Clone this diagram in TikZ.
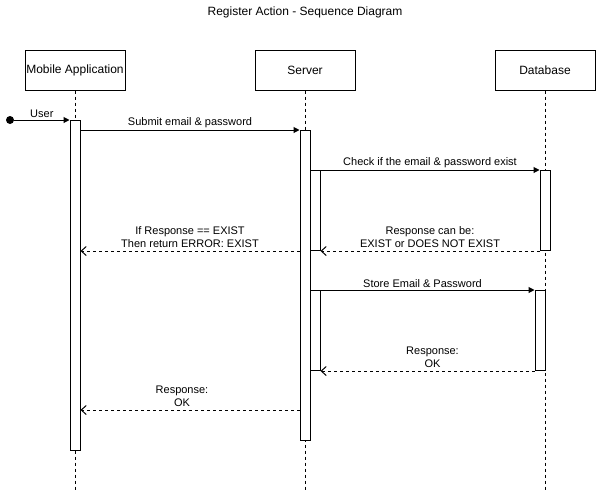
\documentclass[tikz,border=0pt]{standalone}
\usepackage{fontspec}
\setmainfont{Liberation Sans}
\usetikzlibrary{arrows.meta, positioning, calc}

\begin{document}
\begin{tikzpicture}[x=1pt,y=-1pt,
	every node/.append style={font=\fontsize{11}{13}\selectfont},
	actor/.style={draw,line width=1pt,minimum width=100pt,minimum height=40pt,inner sep=0pt,font=\fontsize{12}{14}\selectfont},
	life/.style={line width=1pt,dash pattern=on 3pt off 3pt},
	act/.style={draw,fill=white,line width=1pt,minimum width=10pt,inner sep=0pt,anchor=north},
	msg/.style={line width=1pt,-{Triangle[length=6pt,width=6pt]}},
	ret/.style={line width=1pt,dash pattern=on 3pt off 3pt,-{Straight Barb[length=5pt,width=9pt]}},
	lbl/.style={above,inner sep=1.5pt,align=center},
	lbltwo/.style={lbl,inner sep=3pt}]

\useasboundingbox (0,0) rectangle (596,491);

% set lifeline positions
\pgfmathsetmacro{\xmob}{75}
\pgfmathsetmacro{\xsrv}{305}
\pgfmathsetmacro{\xdb}{545}

% title
\node[font=\fontsize{12}{14}\selectfont] (title) at (305,12) {Register Action - Sequence Diagram};

% actor boxes and lifelines
\node[actor] (mobile) at (\xmob,70) {Mobile Application};
\node[actor] (server) at (\xsrv,70) {Server};
\node[actor] (db) at (\xdb,70) {Database};
\coordinate (bottom) at (0,491);
\draw[life] (mobile.south) -- (mobile.south |- bottom);
\draw[life] (server.south) -- (server.south |- bottom);
\draw[life] (db.south) -- (db.south |- bottom);

% activation bars
\node[act,minimum height=330pt] (mact) at (\xmob,120) {};
\node[act,minimum height=310pt] (sact) at (\xsrv,130) {};
\node[act,minimum height=80pt] (scheck) at (\xsrv+10,170) {};
\node[act,minimum height=80pt] (dcheck) at (\xdb,170) {};
\node[act,minimum height=80pt] (sstore) at (\xsrv+10,290) {};
\node[act,minimum height=80pt] (dstore) at (\xdb-5,290) {};

% user entry
\node[circle,fill,inner sep=0pt,minimum size=8pt] (user) at (10,120) {};
\draw[msg] (user) -- node[lbl] {User} (mact.north west);

% messages
\draw[msg] (mact.east |- sact.north) -- node[lbl] {Submit email \& password} (sact.north west);
\draw[msg] (scheck.north east) -- node[lbl] {Check if the email \& password exist} (dcheck.north west);
\draw[ret] (dcheck.south west) -- node[lbltwo] {Response can be:\\EXIST or DOES NOT EXIST} (scheck.south east);
\draw[ret] (sact.west |- scheck.south) -- node[lbltwo] {If Response == EXIST\\Then return ERROR: EXIST} (mact.east |- scheck.south);
\draw[msg] (sstore.north east) -- node[lbl,xshift=-5pt] {Store Email \& Password} (dstore.north west);
\draw[ret] (dstore.south west) -- node[lbltwo,xshift=5pt] {Response:\\OK} (sstore.south east);
\coordinate (okrow) at (0,410);
\draw[ret] (sact.west |- okrow) -- node[lbltwo,xshift=-8pt] {Response:\\OK} (mact.east |- okrow);

\end{tikzpicture}
\end{document}
